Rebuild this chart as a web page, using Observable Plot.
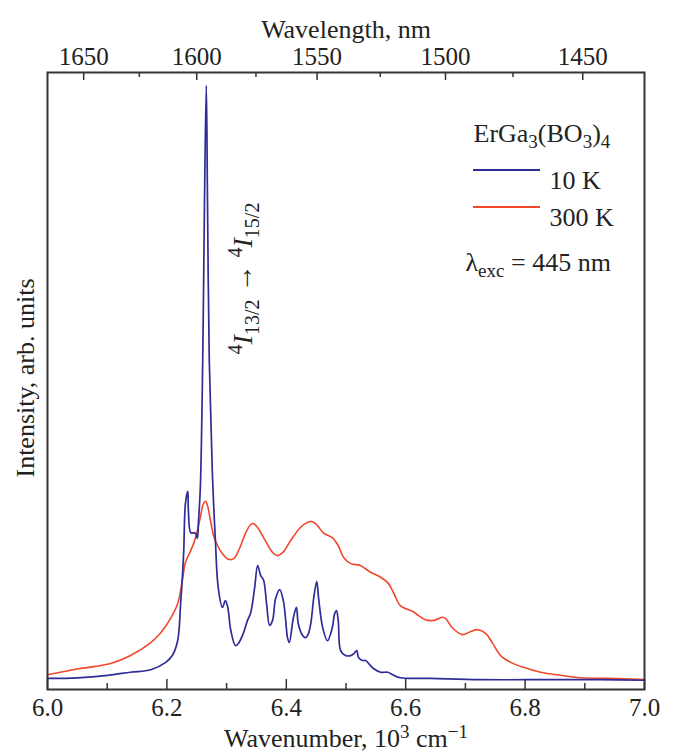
<!DOCTYPE html>
<html>
<head>
<meta charset="utf-8">
<script src="https://cdn.jsdelivr.net/npm/d3@7"></script>
<script src="https://cdn.jsdelivr.net/npm/@observablehq/plot@0.6"></script>
<style>
  html, body { margin: 0; padding: 0; background: #fff; }
</style>
</head>
<body>
<div id="chart"></div>
<script>
// 10 K spectrum: wavenumber (10^3 cm^-1) and intensity (arb. units)
const wn10K = [6.000,6.050,6.101,6.139,6.173,6.198,6.209,6.218,6.223,6.228,6.231,6.235,6.236,6.240,6.245,6.248,6.251,6.253,6.256,6.260,6.263,6.266,6.268,6.271,6.276,6.281,6.286,6.293,6.298,6.302,6.307,6.315,6.320,6.328,6.335,6.340,6.347,6.352,6.357,6.362,6.367,6.372,6.377,6.382,6.389,6.395,6.399,6.402,6.405,6.412,6.417,6.420,6.427,6.432,6.436,6.441,6.446,6.451,6.454,6.461,6.469,6.477,6.481,6.484,6.487,6.491,6.499,6.508,6.513,6.518,6.521,6.528,6.533,6.538,6.546,6.558,6.570,6.580,6.591,6.642,6.725,6.843,6.926,7.000];
const int10K = [1.8,1.9,2.3,2.8,3.2,4.4,5.5,7.9,13.9,22.0,30.1,32.1,29.0,25.4,25.4,25.3,24.5,27.4,32.7,53.3,79.3,97.9,79.3,53.3,35.5,24.6,16.5,13.3,14.4,13.3,9.6,7.1,7.5,9.1,11.2,12.3,16.5,20.1,18.5,17.7,13.9,10.4,11.2,14.7,16.2,14.4,11.2,8.4,7.6,11.7,13.3,10.7,8.8,8.4,8.8,10.7,14.9,17.5,14.9,10.0,7.9,10.0,12.3,12.8,11.2,6.3,5.5,5.5,5.8,6.3,5.2,4.7,4.7,4.2,3.4,2.8,2.8,2.3,1.9,1.8,1.6,1.6,1.6,1.5];

// 300 K spectrum
const wn300K = [6.000,6.055,6.106,6.139,6.173,6.189,6.206,6.218,6.226,6.231,6.240,6.248,6.256,6.261,6.265,6.268,6.273,6.278,6.285,6.293,6.303,6.312,6.320,6.332,6.340,6.345,6.353,6.365,6.377,6.385,6.394,6.407,6.424,6.436,6.444,6.452,6.462,6.477,6.487,6.496,6.508,6.524,6.541,6.558,6.571,6.580,6.591,6.608,6.613,6.621,6.633,6.647,6.662,6.667,6.678,6.695,6.709,6.720,6.734,6.745,6.759,6.776,6.797,6.826,6.859,6.893,6.938,7.000];
const int300K = [2.4,3.4,4.2,5.5,7.6,9.1,11.5,13.9,17.7,20.6,22.5,24.6,27.9,30.1,30.5,29.8,27.4,25.0,23.3,22.0,21.1,21.2,22.5,25.4,26.7,26.9,26.1,24.1,22.2,21.7,22.2,24.1,26.3,27.1,27.2,26.6,25.4,24.6,23.3,21.4,20.4,20.1,19.0,18.2,17.2,15.6,13.6,12.8,12.6,12.0,11.3,11.2,11.7,11.5,10.0,8.9,9.4,9.7,9.1,7.6,5.5,4.4,3.6,2.8,2.3,1.9,1.8,1.6];

// Tick values
const xMajor = [6.0, 6.2, 6.4, 6.6, 6.8, 7.0];
const xMinor = [6.1, 6.3, 6.5, 6.7, 6.9];
const nmMajor = [1650, 1600, 1550, 1500, 1450];
const nmMinor = [1625, 1575, 1525, 1475];

const seriesNames = ["10 K", "300 K"];
const colors = ["#2f2c98", "#f2472c"];

const d10 = wn10K.map((w, i) => ({w, v: int10K[i]}));
const d300 = wn300K.map((w, i) => ({w, v: int300K[i]}));
const toWn = nm => 1e4 / nm;

const FS = 25;
const chart = Plot.plot({
  width: 675,
  height: 756,
  marginLeft: 47,
  marginRight: 31,
  marginTop: 72,
  marginBottom: 67,
  style: {fontFamily: "'Liberation Serif', 'Times New Roman', serif", fontSize: FS + "px", color: "#222", background: "#fff"},
  x: {domain: [6, 7], axis: null},
  y: {domain: [0, 100], axis: null},
  marks: [
    Plot.line(d300, {x: "w", y: "v", stroke: colors[1], strokeWidth: 1.6, curve: "catmull-rom"}),
    Plot.line(d10, {x: "w", y: "v", stroke: colors[0], strokeWidth: 1.7, curve: "catmull-rom"}),
    // bottom ticks (inward)
    Plot.ruleX(xMajor, {x: d => d, insetTop: 607, stroke: "#333", strokeWidth: 1.5}),
    Plot.ruleX(xMinor, {x: d => d, insetTop: 611, stroke: "#333", strokeWidth: 1.5}),
    // top ticks (inward)
    Plot.ruleX(nmMajor.map(toWn), {x: d => d, insetBottom: 609, stroke: "#333", strokeWidth: 1.5}),
    Plot.ruleX(nmMinor.map(toWn), {x: d => d, insetBottom: 612, stroke: "#333", strokeWidth: 1.5}),
    Plot.frame({stroke: "#333", strokeWidth: 2}),
    Plot.axisX(xMajor, {anchor: "bottom", tickSize: 0, tickPadding: 9, tickFormat: d => d.toFixed(1), label: null, fontSize: FS}),
    Plot.axisX(nmMajor.map(toWn), {anchor: "top", tickSize: 0, tickPadding: 8, tickFormat: d => String(Math.round(1e4 / d)), label: null, fontSize: FS}),
    Plot.text(["Wavelength, nm"], {text: d => d, frameAnchor: "top", dy: -53, fontSize: 26}),
    Plot.text(["XLABEL"], {text: d => d, frameAnchor: "bottom", dy: 57, fontSize: 26}),
    Plot.text(["Intensity, arb. units"], {text: d => d, frameAnchor: "left", textAnchor: "middle", dx: -22, dy: -3, rotate: -90, fontSize: 26}),
    Plot.text(["ANNOT"], {text: d => d, frameAnchor: "top-left", textAnchor: "middle", dx: 185, dy: 206, rotate: -90, fontSize: 28}),
    Plot.text(["COMPOUND"], {text: d => d, frameAnchor: "top-left", dx: 426, dy: 51, textAnchor: "start", fontSize: 26}),
    Plot.text([seriesNames[0]], {text: d => d, frameAnchor: "top-left", dx: 502, dy: 98, textAnchor: "start", fontSize: 26}),
    Plot.text([seriesNames[1]], {text: d => d, frameAnchor: "top-left", dx: 502, dy: 135, textAnchor: "start", fontSize: 26}),
    Plot.text(["LAMBDA"], {text: d => d, frameAnchor: "top-left", dx: 418, dy: 180, textAnchor: "start", fontSize: 26})
  ]
});

document.getElementById("chart").appendChild(chart);

const NS = "http://www.w3.org/2000/svg";
function rich(key, parts, fs, supShift = 0.38) {
  const el = [...chart.querySelectorAll("text")].find(t => t.textContent === key);
  if (!el) return;
  el.textContent = "";
  let shift = 0;
  for (const [s, mode, italic] of parts) {
    const ts = document.createElementNS(NS, "tspan");
    const target = mode === "sup" ? -supShift * fs : mode === "sub" ? 0.25 * fs : 0;
    ts.setAttribute("dy", target - shift);
    shift = target;
    if (mode) ts.setAttribute("font-size", Math.round(0.72 * fs));
    if (italic) ts.setAttribute("font-style", "italic");
    ts.textContent = s;
    el.appendChild(ts);
  }
}
rich("XLABEL", [["Wavenumber, 10"], ["3", "sup"], [" cm"], ["\u22121", "sup"]], 26, 0.32);
rich("COMPOUND", [["ErGa"], ["3", "sub"], ["(BO"], ["3", "sub"], [")"], ["4", "sub"]], 26);
rich("LAMBDA", [["\u03bb"], ["exc", "sub"], [" = 445 nm"]], 26);
rich("ANNOT", [["4", "sup"], ["I", null, true], ["13/2", "sub"], [" \u2192 "], ["4", "sup"], ["I", null, true], ["15/2", "sub"]], 28);

// legend swatches
const svg = d3.select(chart);
const legendY = [170, 207];
legendY.forEach((y, i) => {
  svg.append("line").attr("x1", 473).attr("x2", 540).attr("y1", y).attr("y2", y)
    .attr("stroke", colors[i]).attr("stroke-width", 1.8);
});
</script>
</body>
</html>
